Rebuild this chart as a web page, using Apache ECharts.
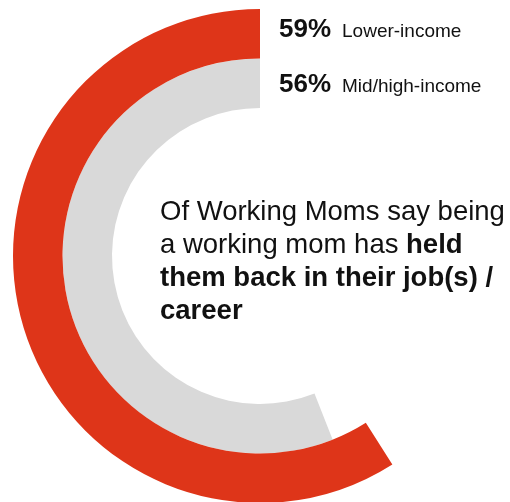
<!DOCTYPE html>
<html>
<head>
<meta charset="utf-8">
<style>
  html, body { margin: 0; padding: 0; background: #ffffff; }
  #chart { width: 510px; height: 502px; }
</style>
<script src="https://cdn.jsdelivr.net/npm/echarts@6/dist/echarts.min.js"></script>
</head>
<body>
<div id="chart"></div>
<script>
// Share of working moms saying motherhood held their career back, by income group
const groups = ['Mid/high-income', 'Lower-income'];   // inner ring first
const shares = [56, 59];
const ringColors = ['#d9d9d9', '#de3519'];

const FONT = '"Liberation Sans", Arial, Helvetica, sans-serif';

const chart = echarts.init(document.getElementById('chart'), null, { renderer: 'canvas' });

// Legend-style labels, outer ring listed first
const labelOrder = [1, 0];
const labelRows = labelOrder.map((gi, row) => ({
  type: 'text',
  left: 279,
  top: 17 + row * 55,
  style: {
    text: '{num|' + shares[gi] + '%}{name|' + groups[gi] + '}',
    rich: {
      num: { fontFamily: FONT, fontSize: 26, fontWeight: 'bold', fill: '#111', padding: [0, 11, 0, 0] },
      name: { fontFamily: FONT, fontSize: 19, fill: '#111', padding: [4, 0, 0, 0] }
    }
  }
}));

const option = {
  backgroundColor: '#ffffff',
  animation: false,
  polar: { center: [260, 256], radius: [148, 247] },
  angleAxis: {
    type: 'value', min: 0, max: 100, startAngle: 90, clockwise: false,
    show: false, splitLine: { show: false }
  },
  radiusAxis: {
    type: 'category', data: groups, show: false
  },
  series: [{
    type: 'bar',
    coordinateSystem: 'polar',
    barCategoryGap: '0%',
    data: shares.map((v, i) => ({ value: v, itemStyle: { color: ringColors[i] } })),
    silent: true
  }],
  graphic: labelRows.concat([{
    type: 'text',
    left: 160,
    top: 198,
    style: {
      text: '{r|Of Working Moms say being}\n{r|a working mom has }{b|held}\n{b|them back in their job(s) /}\n{b|career}',
      rich: {
        r: { fontFamily: FONT, fontSize: 27.5, fill: '#111', lineHeight: 33 },
        b: { fontFamily: FONT, fontSize: 27.5, fontWeight: 'bold', fill: '#111', lineHeight: 33 }
      }
    }
  }])
};

chart.setOption(option);
</script>
</body>
</html>
